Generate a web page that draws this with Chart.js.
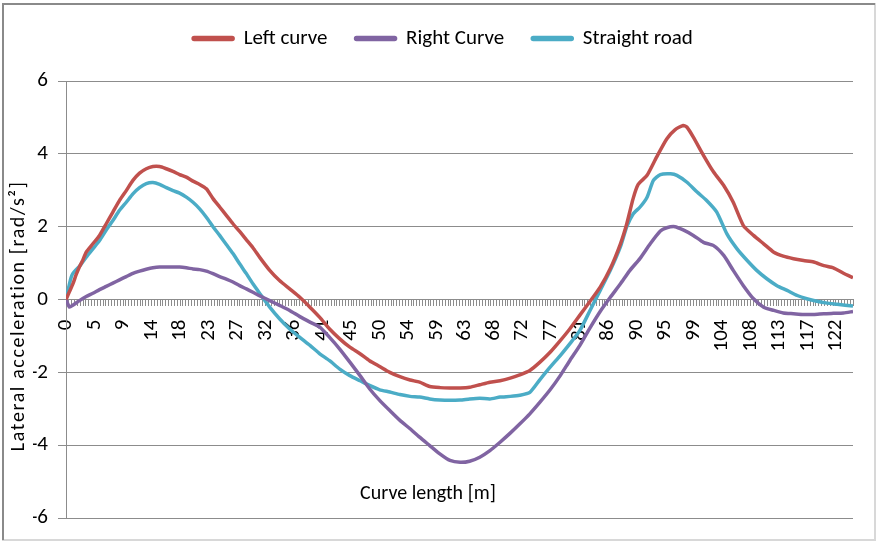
<!DOCTYPE html>
<html>
<head>
<meta charset="utf-8">
<script src="https://cdn.jsdelivr.net/npm/chart.js@4"></script>
<style>
  body { margin: 0; background: #fff; }
  #wrap { width: 877px; height: 542px; }
</style>
</head>
<body>
<div id="wrap"><canvas id="line-chart" width="877" height="542"></canvas></div>
<script>
// x positions are curve length in m
const leftCurveX = [0, 0.55, 1.07, 1.6, 2.13, 2.65, 3.19, 4.24, 5.29, 6.35, 7.4, 8.45, 9.51, 10.56, 11.61, 12.67, 13.72, 14.77, 15.83, 16.88, 17.93, 18.99, 20.04, 21.09, 22.15, 23.2, 24.25, 25.3, 26.35, 27.4, 28.47, 29.5, 30.6, 32.15, 33.7, 35.3, 36.9, 38.5, 40.05, 41.6, 43.2, 44.8, 46.4, 47.9, 49.5, 51.1, 52.7, 54.3, 55.8, 57.4, 59, 60.6, 62.2, 63.7, 65.3, 66.9, 68.5, 70.1, 71.6, 73.2, 74.8, 76.4, 78, 79.5, 81.1, 82.7, 84.3, 85.9, 87.5, 88.5, 89.5, 90.3, 91.7, 93.2, 94.8, 96.1, 97.4, 98, 99, 100.6, 102.2, 103.8, 105.3, 106.9, 108.5, 110.1, 111.7, 113.2, 114.8, 116.4, 118, 119.6, 121.1, 122.7, 124.2];
const leftCurve = [0, 0.22, 0.42, 0.68, 0.9, 1.08, 1.3, 1.53, 1.76, 2.08, 2.4, 2.72, 2.99, 3.27, 3.47, 3.59, 3.65, 3.65, 3.59, 3.52, 3.43, 3.36, 3.25, 3.16, 3.04, 2.77, 2.54, 2.31, 2.08, 1.87, 1.64, 1.42, 1.15, 0.8, 0.52, 0.29, 0.06, -0.21, -0.49, -0.81, -1.08, -1.31, -1.49, -1.68, -1.84, -2.0, -2.12, -2.21, -2.27, -2.39, -2.42, -2.43, -2.43, -2.41, -2.34, -2.27, -2.23, -2.16, -2.07, -1.95, -1.72, -1.45, -1.13, -0.81, -0.43, -0.05, 0.34, 0.85, 1.53, 2.08, 2.77, 3.16, 3.41, 3.91, 4.41, 4.66, 4.78, 4.73, 4.46, 3.96, 3.5, 3.13, 2.67, 2.03, 1.76, 1.53, 1.3, 1.19, 1.12, 1.07, 1.03, 0.93, 0.87, 0.72, 0.6];

const rightCurveX = [0, 0.55, 1.07, 2.13, 3.19, 4.24, 5.29, 6.35, 7.4, 8.45, 9.51, 10.56, 11.61, 12.67, 13.72, 14.77, 16.88, 17.93, 18.99, 20.04, 21.09, 22.15, 23.2, 24.25, 25.3, 26.35, 27.4, 28.47, 29.5, 30.6, 32.15, 33.7, 35.3, 36.9, 38.5, 40.05, 41.6, 43.2, 44.8, 46.4, 47.9, 49.5, 51.1, 52.7, 54.3, 55.8, 57.4, 59, 60.6, 62.2, 63.7, 65.3, 66.9, 68.5, 70.1, 71.6, 73.2, 74.8, 76.4, 78, 79.5, 81.1, 82.7, 84.3, 85.9, 87.5, 89, 90.6, 92.2, 93.8, 94.8, 96.1, 97.4, 99, 100.6, 102.2, 103.8, 105.3, 106.9, 108.5, 110.1, 111.7, 113.2, 114.8, 116.4, 118, 119.6, 121.1, 122.7, 124.2];
const rightCurve = [0, -0.21, -0.16, -0.03, 0.08, 0.17, 0.27, 0.36, 0.45, 0.54, 0.63, 0.72, 0.78, 0.83, 0.87, 0.89, 0.89, 0.89, 0.87, 0.84, 0.82, 0.78, 0.71, 0.63, 0.56, 0.48, 0.38, 0.29, 0.2, 0.1, -0.03, -0.16, -0.3, -0.47, -0.62, -0.76, -1.04, -1.36, -1.72, -2.09, -2.45, -2.77, -3.05, -3.32, -3.55, -3.78, -4.01, -4.24, -4.42, -4.47, -4.44, -4.33, -4.15, -3.92, -3.67, -3.42, -3.14, -2.82, -2.48, -2.09, -1.68, -1.26, -0.78, -0.33, 0.06, 0.43, 0.8, 1.13, 1.53, 1.88, 1.97, 2.0, 1.91, 1.76, 1.57, 1.48, 1.21, 0.8, 0.38, 0.02, -0.21, -0.3, -0.37, -0.39, -0.41, -0.41, -0.39, -0.38, -0.37, -0.33];

const straightRoadX = [0, 0.55, 0.82, 1.07, 1.6, 2.13, 3.19, 4.24, 5.29, 6.35, 7.4, 8.45, 9.51, 10.56, 11.61, 12.67, 13.72, 14.77, 15.83, 16.88, 17.93, 18.99, 20.04, 21.09, 22.15, 23.2, 24.25, 25.3, 26.35, 27.4, 28.47, 29.5, 30.6, 32.15, 33.7, 35.3, 36.9, 38.5, 40.05, 41.6, 43.2, 44.8, 46.4, 47.9, 49.5, 51.1, 52.7, 54.3, 55.8, 57.4, 59, 60.6, 62.2, 63.7, 65.3, 66.9, 68.5, 70.1, 71.6, 73.2, 74.8, 76.4, 78, 79.5, 81.1, 82.7, 84.3, 85.9, 87.5, 88.5, 89.5, 90.6, 91.7, 92.7, 93.8, 95.4, 96.4, 98, 99.6, 101.1, 102.7, 104.3, 105.9, 107.5, 109, 110.6, 112.2, 113.8, 115.4, 116.9, 118.5, 120.1, 121.7, 124.2];
const straightRoad = [0, 0.43, 0.61, 0.71, 0.82, 0.91, 1.16, 1.39, 1.62, 1.91, 2.17, 2.45, 2.67, 2.9, 3.07, 3.18, 3.21, 3.16, 3.07, 2.99, 2.92, 2.81, 2.67, 2.49, 2.26, 2.0, 1.76, 1.51, 1.26, 0.98, 0.71, 0.43, 0.16, -0.21, -0.53, -0.81, -1.04, -1.26, -1.49, -1.68, -1.91, -2.09, -2.23, -2.36, -2.48, -2.54, -2.61, -2.66, -2.68, -2.73, -2.76, -2.77, -2.76, -2.73, -2.71, -2.73, -2.68, -2.66, -2.63, -2.55, -2.2, -1.86, -1.54, -1.22, -0.85, -0.3, 0.25, 0.8, 1.45, 2.0, 2.35, 2.54, 2.81, 3.27, 3.43, 3.45, 3.41, 3.22, 2.95, 2.72, 2.4, 1.8, 1.39, 1.07, 0.8, 0.57, 0.38, 0.25, 0.11, 0.02, -0.05, -0.1, -0.13, -0.18];

// category axis: one point every 0.45 m, a label every tenth point
const xStep = 0.45;
const xCount = 277;
const xTickLabels = [0, 5, 9, 14, 18, 23, 27, 32, 36, 41, 45, 50, 54, 59, 63, 68, 72, 77, 81, 86, 90, 95, 99, 104, 108, 113, 117, 122];
const yTicks = [-6, -4, -2, 0, 2, 4, 6];

const FONT = "Carlito, Calibri, 'Liberation Sans Narrow', 'Liberation Sans', sans-serif";

function toPoints(xs, ys) {
  return xs.map((x, i) => ({ x: x, y: ys[i] }));
}

const frame = {
  id: "frame",
  beforeInit(chart) {
    const fit = chart.legend.fit;
    chart.legend.fit = function () {
      fit.call(this);
      this.height = 81;
    };
  },
  beforeDraw(chart) {
    const ctx = chart.ctx;
    ctx.save();
    ctx.fillStyle = "#fff";
    ctx.fillRect(0, 0, chart.width, chart.height);
    ctx.restore();
  },
  afterDraw(chart) {
    const ctx = chart.ctx;
    const area = chart.chartArea;
    const y = chart.scales.y;
    ctx.save();
    ctx.fillStyle = "#000";
    ctx.font = "20px " + FONT;
    ctx.textAlign = "center";
    ctx.textBaseline = "middle";
    ctx.fillText("Curve length [m]", area.left + 362, y.getPixelForValue(-5.35));
    ctx.translate(19, y.getPixelForValue(-0.45));
    ctx.rotate(-Math.PI / 2);
    ctx.letterSpacing = "1.6px";
    ctx.fillText("Lateral acceleration [rad/s\u00b2]", 0, 0);
    ctx.restore();

    ctx.save();
    ctx.lineWidth = 2;
    ctx.strokeStyle = "#d8d8d8";
    ctx.strokeRect(3, 4, chart.width - 5, chart.height - 6);
    ctx.strokeStyle = "#8a8a8a";
    ctx.beginPath();
    ctx.moveTo(3, chart.height - 2);
    ctx.lineTo(3, 4);
    ctx.lineTo(chart.width - 2, 4);
    ctx.stroke();
    ctx.restore();
  },
};

new Chart(document.getElementById("line-chart"), {
  type: "line",
  data: {
    datasets: [
      {
        label: "Left curve",
        data: toPoints(leftCurveX, leftCurve),
        borderColor: "#C0504D",
        backgroundColor: "#C0504D",
        borderWidth: 3.5,
        pointRadius: 0,
        tension: 0.2,
      },
      {
        label: "Right Curve",
        data: toPoints(rightCurveX, rightCurve),
        borderColor: "#8064A2",
        backgroundColor: "#8064A2",
        borderWidth: 3.5,
        pointRadius: 0,
        tension: 0.2,
      },
      {
        label: "Straight road",
        data: toPoints(straightRoadX, straightRoad),
        borderColor: "#4BACC6",
        backgroundColor: "#4BACC6",
        borderWidth: 3.5,
        pointRadius: 0,
        tension: 0.2,
      },
    ],
  },
  options: {
    responsive: false,
    animation: false,
    devicePixelRatio: 1,
    layout: { padding: { left: 33, right: 24, top: 0, bottom: 24 } },
    plugins: {
      legend: {
        labels: {
          color: "#000",
          font: { size: 21, family: FONT },
          boxWidth: 40,
          boxHeight: 2,
          padding: 28,
          useBorderRadius: true,
          borderRadius: 1,
        },
      },
      tooltip: { enabled: false },
    },
    scales: {
      x: {
        type: "linear",
        position: { y: 0 },
        min: 0,
        max: xStep * (xCount - 1),
        afterBuildTicks(scale) {
          const ticks = [];
          for (let i = 0; i < xCount; i++) ticks.push({ value: i * xStep });
          scale.ticks = ticks;
        },
        afterFit(scale) {
          scale.paddingLeft = 0;
          scale.paddingRight = 0;
        },
        ticks: {
          autoSkip: false,
          minRotation: 90,
          maxRotation: 90,
          padding: 14,
          color: "#000",
          font: { size: 21, family: FONT },
          callback: (value, index) => (index % 10 === 0 ? String(xTickLabels[index / 10]) : ""),
        },
        grid: {
          drawOnChartArea: false,
          drawTicks: true,
          tickLength: 6,
          color: "#8c8c8c",
        },
        border: { color: "#8c8c8c" },
      },
      y: {
        min: -6,
        max: 6,
        afterBuildTicks(scale) {
          scale.ticks = yTicks.map((v) => ({ value: v }));
        },
        afterFit(scale) {
          scale.width = 33;
        },
        ticks: {
          padding: 10,
          color: "#000",
          font: { size: 21, family: FONT },
        },
        grid: {
          color: "#8c8c8c",
          tickLength: 8,
        },
        border: { color: "#8c8c8c" },
      },
    },
  },
  plugins: [frame],
});
</script>
</body>
</html>
